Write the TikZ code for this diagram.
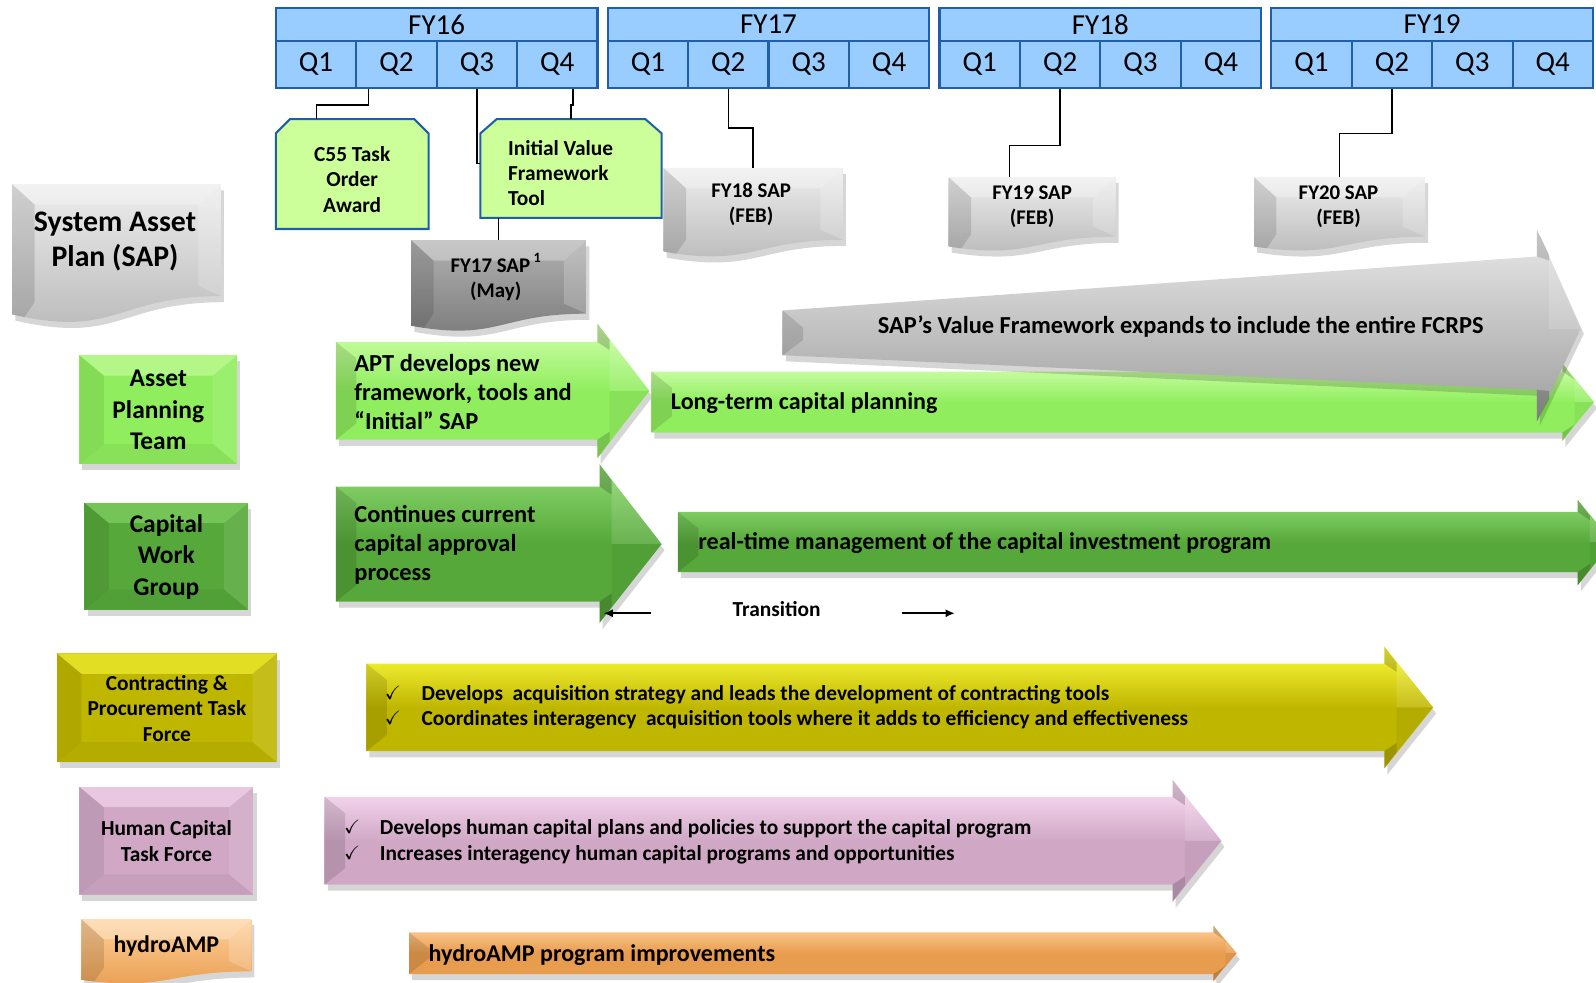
\documentclass[tikz,border=0pt]{standalone}
\usepackage{amssymb}
\usepackage{fontspec}
\setmainfont{Carlito}
\usetikzlibrary{calc,arrows.meta}
\definecolor{hdrfill}{HTML}{99CCFF}
\definecolor{hdrline}{HTML}{1F5FAA}
\definecolor{cfill}{HTML}{CCFF99}
\definecolor{lgreen}{HTML}{90EE5E}
\definecolor{lgreentop}{HTML}{D2FFAE}
\definecolor{dgreen}{HTML}{56A83A}
\definecolor{dgreentop}{HTML}{8FDB72}
\definecolor{yel}{HTML}{BFB600}
\definecolor{yeltop}{HTML}{FFFF40}
\definecolor{pnk}{HTML}{D0A8C6}
\definecolor{pnktop}{HTML}{FFE2F8}
\definecolor{org}{HTML}{E89C4E}
\definecolor{orgtop}{HTML}{FFD09A}
\definecolor{sgray}{HTML}{B8B8B8}
\definecolor{sgraytop}{HTML}{EDEDED}
\definecolor{dgray}{HTML}{7A7A7A}
\definecolor{dgraytop}{HTML}{B0B0B0}
\definecolor{agraytop}{HTML}{E8E8E8}
\definecolor{agray}{HTML}{9E9E9E}

\newcommand{\bevelrect}[7]{%
 \fill[black,opacity=.16] (#2+3,#3+6) rectangle (#4+3,#5+6);
 \fill[#6] (#2,#3) rectangle (#4,#5);
 \fill[#7,opacity=.55] (#2,#3) -- (#4,#3) -- (#4-24,#3+20) -- (#2+24,#3+20) -- cycle;
 \fill[black,opacity=.08] (#2,#3) -- (#2+24,#3+20) -- (#2+24,#5-20) -- (#2,#5) -- cycle;
 \fill[white,opacity=.1] (#4,#3) -- (#4-24,#3+20) -- (#4-24,#5-20) -- (#4,#5) -- cycle;
 \fill[black,opacity=.05] (#2,#5) -- (#4,#5) -- (#4-24,#5-20) -- (#2+24,#5-20) -- cycle;
 \pgfmathsetmacro\bvW{#4-#2}\pgfmathsetmacro\bvH{#5-#3}%
 \node[inner sep=0,minimum width=\bvW pt,minimum height=\bvH pt] (#1) at ({(#2+#4)/2},{(#3+#5)/2}) {};
}

\newcommand{\bigarrow}[9]{%
 \pgfmathsetmacro\arM{(#2+#3)/2}%
 \fill[black,opacity=.16] (#1+3,#2+6) -- (#4+3,#2+6) -- (#4+3,#5+6) -- (#7+3,\arM+6) -- (#4+3,#6+6) -- (#4+3,#3+6) -- (#1+3,#3+6) -- cycle;
 \shade[top color=#9,bottom color=#8,middle color=#8] (#1,#2) -- (#4,#2) -- (#4,#5) -- (#7,\arM) -- (#4,#6) -- (#4,#3) -- (#1,#3) -- cycle;
 \fill[black,opacity=.12] (#1,#2) -- (#1+20,#2+16) -- (#1+20,#3-16) -- (#1,#3) -- cycle;
 \fill[black,opacity=.18] (#4,#5) -- (#4+12,#5+16) -- (#4+12,#2+8) -- (#4,#2) -- cycle;
 \fill[black,opacity=.18] (#4,#6) -- (#4+12,#6-16) -- (#4+12,#3-8) -- (#4,#3) -- cycle;
 \fill[white,opacity=.12] (#4+12,#5+16) -- (#7,\arM) -- (#4+12,\arM) -- cycle;
 \fill[black,opacity=.05] (#4+12,#6-16) -- (#7,\arM) -- (#4+12,\arM) -- cycle;
}

\newcommand{\docshape}[7]{%
 \pgfmathsetmacro\dcA{#3+0.802*#5}%
 \pgfmathsetmacro\dcB{#3+1.107*#5}%
 \pgfmathsetmacro\dcC{#3+0.934*#5}%
 \pgfmathsetmacro\dcM{(#2+#4)/2}%
 \pgfmathsetmacro\dcW{#4-#2}%
 \pgfmathsetmacro\dcH{0.8*#5}%
 \pgfmathsetmacro\dcY{#3+0.4*#5}%
 \fill[black,opacity=.16] (#2+3,#3+6) -- (#4+3,#3+6) -- (#4+3,\dcA+6) .. controls (\dcM+3,\dcA+6) and (\dcM+3,\dcB+6) .. (#2+3,\dcC+6) -- cycle;
 \begin{scope}
 \clip (#2,#3) -- (#4,#3) -- (#4,\dcA) .. controls (\dcM,\dcA) and (\dcM,\dcB) .. (#2,\dcC) -- cycle;
 \shade[top color=#7,bottom color=#6] (#2,#3) rectangle (#4,\dcB);
 \fill[black,opacity=.12] (#2,#3) -- (#2+22,#3+20) -- (#2+22,\dcC-12) -- (#2,\dcC+20) -- cycle;
 \fill[white,opacity=.2] (#4,#3) -- (#4-22,#3+20) -- (#4-22,\dcA-10) -- (#4,\dcA) -- cycle;
 \fill[white,opacity=.3] (#2,#3) -- (#4,#3) -- (#4-22,#3+20) -- (#2+22,#3+20) -- cycle;
 \end{scope}
 \node[inner sep=0,minimum width=\dcW pt,minimum height=\dcH pt] (#1) at (\dcM,\dcY) {};
}

\tikzset{
 conn/.style={draw=black,line width=1.5pt},
 hdr/.style={draw=hdrline,line width=2pt,fill=hdrfill,inner sep=0,font=\fontsize{28.5}{32}\selectfont},
 lblA/.style={inner sep=0,align=center,font=\bfseries\fontsize{25}{31}\selectfont},
 lblB/.style={inner sep=0,align=center,font=\bfseries\fontsize{21}{25}\selectfont},
 lblC/.style={inner sep=0,align=center,font=\bfseries\fontsize{29.3}{34.5}\selectfont},
 sapl/.style={inner sep=0,align=center,font=\bfseries\fontsize{20.5}{25}\selectfont},
 arrA/.style={inner sep=0,align=left,anchor=west,font=\bfseries\fontsize{24}{28.5}\selectfont},
 arrB/.style={inner sep=0,align=left,anchor=west,font=\bfseries\fontsize{23.6}{26}\selectfont},
 bul/.style={inner sep=0,align=left,anchor=west,font=\bfseries\fontsize{21}{24.8}\selectfont},
 chk/.style={inner sep=0,font=\fontsize{19}{20}\selectfont},
 tag/.style={fill=cfill,draw=hdrline,line width=2pt},
 trarr/.style={line width=1.7pt,-{Latex[length=9pt,width=8pt]}}
}

\begin{document}
\begin{tikzpicture}[x=1pt,y=-1pt]
\useasboundingbox (0,0) rectangle (1568,965);
\clip (0,0) rectangle (1568,965);

% header
\foreach \i/\fy in {0/16,1/17,2/18,3/19} {
  \node[hdr,minimum width=316pt,minimum height=32pt] (fy\fy) at (271+326*\i+158,24) {\raisebox{-1.5pt}{FY\fy}};
  \foreach \q in {1,2,3,4} {
    \node[hdr,minimum width=79pt,minimum height=46pt] (f\fy q\q) at (271+326*\i+79*\q-39.5,63) {\raisebox{-2pt}{Q\q}};
  }
}

% milestone tags
\filldraw[tag] (271,131) -- (285,117) -- (407,117) -- (421,131) -- (421,225) -- (271,225) -- cycle;
\node[inner sep=0,minimum width=150pt,minimum height=108pt] (c55) at (346,171) {};
\node[lblB] (c55t) at (346,176) {C55 Task\\Order\\Award};

\filldraw[tag] (472,131) -- (488,117) -- (634,117) -- (650,131) -- (650,214) -- (472,214) -- cycle;
\node[inner sep=0,minimum width=178pt,minimum height=97pt] (ivf) at (561,165.5) {};
\node[inner sep=0,align=left,anchor=west,font=\bfseries\fontsize{21}{25}\selectfont] (ivft) at (499,170) {Initial Value\\Framework\\Tool};

% SAP documents
\docshape{sapmain}{12}{181}{217}{137}{sgray}{sgraytop}
\node[lblC] (sapmaint) at (113,237) {System Asset\\Plan (SAP)};
\docshape{sap17}{404}{236}{576}{90}{dgray}{dgraytop}
\node[sapl] (sap17t) at (487,272.5) {FY17 SAP\,\raisebox{0.45em}{\fontsize{14}{14}\selectfont 1}\\(May)};
\docshape{sap18}{652}{165}{828}{88}{sgray}{sgraytop}
\node[sapl] (sap18t) at (738,201) {FY18 SAP\\(FEB)};
\docshape{sap19}{932}{174}{1096}{73}{sgray}{sgraytop}
\node[sapl] (sap19t) at (1014,203) {FY19 SAP\\(FEB)};
\docshape{sap20}{1232}{174}{1400}{73}{sgray}{sgraytop}
\node[sapl] (sap20t) at (1315,203) {FY20 SAP\\(FEB)};

% connectors
\draw[conn] ($(f16q2.south west)+(13,0)$) -- ++(0,16) -| ($(c55.north west)+(40,0)$);
\draw[conn] (f16q3.south) |- ($(ivf.north west)+(0,44)$);
\draw[conn] ($(f16q4.south west)+(56,0)$) -- ++(0,16) -| ($(ivf.north west)+(89,0)$);
\draw[conn] ($(ivf.south west)+(18,0)$) -- ($(sap17.north west)+(86,0)$);
\draw[conn] (f17q2.south) -- ++(0,39) -| (sap18.north);
\draw[conn] (f18q2.south) -- ++(0,56) -| ($(sap19.north west)+(60,0)$);
\draw[conn] (f19q2.south) -- ++(0,44) -| (sap20.north);

% row labels
\bevelrect{apt}{78}{349}{233}{456}{lgreen}{lgreentop}
\node[lblA] (aptt) at (155.5,403) {Asset\\Planning\\Team};
\bevelrect{cwg}{83}{494}{244}{599}{dgreen}{dgreentop}
\node[lblA] (cwgt) at (163.5,547) {Capital\\Work\\Group};
\bevelrect{cpt}{56}{642}{272}{749}{yel}{yeltop}
\node[lblB] (cptt) at (164,696) {Contracting \&\\Procurement Task\\Force};
\bevelrect{hct}{78}{773}{249}{879}{pnk}{pnktop}
\node[lblB] (hctt) at (163.5,826.5) {Human Capital\\Task Force};
\docshape{hydro}{80}{903}{247}{64}{org}{orgtop}
\node[lblB,font=\bfseries\fontsize{23.5}{25}\selectfont] (hydrot) at (163.5,929) {hydroAMP};

% arrows
\bigarrow{330}{336}{432}{587}{318}{450}{638}{lgreen}{lgreentop}
\node[arrA] (a1) at (348,385) {APT develops new\\framework, tools and\\“Initial” SAP};
\bigarrow{640}{365}{425}{1535}{357}{433}{1566}{lgreen}{lgreentop}
\node[arrB] (a2) at (659,396) {Long-term capital planning};

% gray SAP arrow
\fill[black,opacity=.16] (772,311) -- (1513,258) -- (1513,232) -- (1556,328) -- (1513,418) -- (1513,389) -- (772,355) -- cycle;
\shade[top color=agraytop,bottom color=agray] (769,305) -- (1510,252) -- (1510,226) -- (1553,323) -- (1510,414) -- (1510,383) -- (769,349) -- cycle;
\fill[black,opacity=.12] (769,305) -- (789,322) -- (789,334) -- (769,349) -- cycle;
\fill[black,opacity=.15] (1510,226) -- (1522,250) -- (1522,256) -- (1510,252) -- cycle;
\fill[black,opacity=.2] (1510,414) -- (1522,392) -- (1522,384) -- (1510,383) -- cycle;
\fill[white,opacity=.15] (1522,250) -- (1553,323) -- (1522,323) -- cycle;
\node[arrB,anchor=center,font=\bfseries\fontsize{24}{26}\selectfont] (a3) at (1160,321) {SAP’s Value Framework expands to include the entire FCRPS};

\bigarrow{330}{478}{591}{589}{456}{612}{650}{dgreen}{dgreentop}
\node[arrA] (a4) at (348,535.5) {Continues current\\capital approval\\process};
\bigarrow{666}{503}{562}{1550}{491}{575}{1584}{dgreen}{dgreentop}
\node[arrB] (a5) at (686,533.5) {real-time management of the capital investment program};

% transition
\node[inner sep=0,font=\bfseries\fontsize{21}{24}\selectfont] (trans) at (763,598.5) {Transition};
\coordinate (trLa) at (640,602.5);
\coordinate (trLb) at (593,602.5);
\coordinate (trRa) at (886,602.5);
\coordinate (trRb) at (938,602.5);
\draw[trarr] (trLa) -- (trLb);
\draw[trarr] (trRa) -- (trRb);

\bigarrow{360}{652}{738}{1360}{635}{755}{1408}{yel}{yeltop}
\node[chk] (c1) at (386,681) {$\checkmark$};
\node[bul] (b1) at (414,683) {Develops~ acquisition strategy and leads the development of contracting tools};
\node[chk] (c2) at (386,705.5) {$\checkmark$};
\node[bul] (b2) at (414,707.5) {Coordinates interagency~ acquisition tools where it adds to efficiency and effectiveness};

\bigarrow{319}{783}{869}{1152}{766}{886}{1200}{pnk}{pnktop}
\node[chk] (c3) at (346,812.5) {$\checkmark$};
\node[bul] (b3) at (373,814.5) {Develops human capital plans and policies to support the capital program};
\node[chk] (c4) at (346,837.5) {$\checkmark$};
\node[bul] (b4) at (373,839.5) {Increases interagency human capital programs and opportunities};

\bigarrow{402}{916}{957}{1192}{909}{964}{1215}{org}{orgtop}
\node[arrB] (a6) at (421,938) {hydroAMP program improvements};
\end{tikzpicture}
\end{document}
